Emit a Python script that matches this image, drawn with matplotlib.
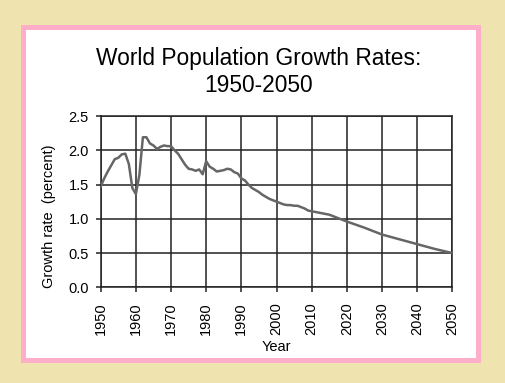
import matplotlib
matplotlib.use("Agg")
import matplotlib.pyplot as plt
from matplotlib.patches import Rectangle

plt.rcParams['font.family'] = ['Liberation Sans', 'DejaVu Sans']

# growth rate (percent)
years = [1950, 1951, 1952, 1953, 1954, 1955, 1956, 1957, 1958, 1959,
         1960, 1961, 1962, 1963, 1964, 1965, 1966, 1967, 1968, 1969,
         1970, 1971, 1972, 1973, 1974, 1975, 1976, 1977, 1978, 1979,
         1980, 1981, 1982, 1983, 1984, 1985, 1986, 1987, 1988, 1989,
         1990, 1991, 1992, 1993, 1994, 1995, 1996, 1997, 1998, 1999,
         2000, 2001, 2002, 2003, 2004, 2005, 2006, 2007, 2008, 2009,
         2010, 2011, 2012, 2013, 2014, 2015, 2016, 2017, 2018, 2019,
         2020, 2025, 2030, 2035, 2040, 2045, 2050]
rates = [1.47, 1.59, 1.69, 1.78, 1.87, 1.89, 1.94, 1.95, 1.80, 1.45,
         1.36, 1.64, 2.19, 2.19, 2.10, 2.07, 2.02, 2.05, 2.07, 2.06,
         2.06, 2.00, 1.95, 1.87, 1.79, 1.73, 1.72, 1.70, 1.72, 1.65,
         1.84, 1.76, 1.73, 1.69, 1.70, 1.71, 1.73, 1.72, 1.68, 1.66,
         1.59, 1.56, 1.50, 1.45, 1.42, 1.39, 1.35, 1.32, 1.29, 1.27,
         1.25, 1.23, 1.21, 1.20, 1.20, 1.19, 1.19, 1.17, 1.15, 1.12,
         1.11, 1.10, 1.09, 1.08, 1.07, 1.06, 1.04, 1.02, 1.00, 0.98,
         0.96, 0.87, 0.77, 0.70, 0.63, 0.56, 0.50]

x_ticks = list(range(1950, 2051, 10))
y_ticks = [0.0, 0.5, 1.0, 1.5, 2.0, 2.5]

W, H = 506, 383
fig = plt.figure(figsize=(W / 100, H / 100), dpi=100)
fig.patch.set_facecolor('#EFE4B0')

# pink frame with white panel
fig.add_artist(Rectangle((21 / W, 20.3 / H), 460 / W, 337.7 / H,
                         transform=fig.transFigure, facecolor='#FFAEC9',
                         edgecolor='none', zorder=0))
fig.add_artist(Rectangle((26 / W, 25.3 / H), 450 / W, 327.7 / H,
                         transform=fig.transFigure, facecolor='white',
                         edgecolor='none', zorder=0))

ax = fig.add_axes([100.7 / W, 95.7 / H, 351.6 / W, 171.3 / H])
ax.set_facecolor('none')
ax.plot(years, rates, color='#666666', lw=1.8, zorder=3)

ax.set_xlim(1950, 2050)
ax.set_ylim(0, 2.5)
ax.set_xticks(x_ticks)
ax.set_xticklabels([str(y) for y in x_ticks], rotation=90)
ax.set_yticks(y_ticks)
ax.set_yticklabels(['%.1f' % v for v in y_ticks])
ax.tick_params(axis='both', labelsize=10.5, direction='out', length=3.5,
               width=1.1, color='#222222', labelcolor='black')
ax.tick_params(axis='x', pad=7)
ax.tick_params(axis='y', pad=5)
ax.grid(True, color='#222222', lw=1.1)
for s in ax.spines.values():
    s.set_color('#222222')
    s.set_linewidth(1.1)

fig.text(259 / W, 1 - 59 / H, 'World Population Growth Rates:',
         ha='center', va='center', fontsize=16.4)
fig.text(259 / W, 1 - 85 / H, '1950-2050',
         ha='center', va='center', fontsize=16.4)
fig.text(276.5 / W, 1 - 346.7 / H, 'Year', ha='center', va='center',
         fontsize=10.5)
fig.text(49.3 / W, 1 - 216.7 / H, 'Growth rate  (percent)', ha='center',
         va='center', rotation=90, fontsize=10.5)

fig.savefig('out.png', dpi=100, facecolor=fig.get_facecolor())
